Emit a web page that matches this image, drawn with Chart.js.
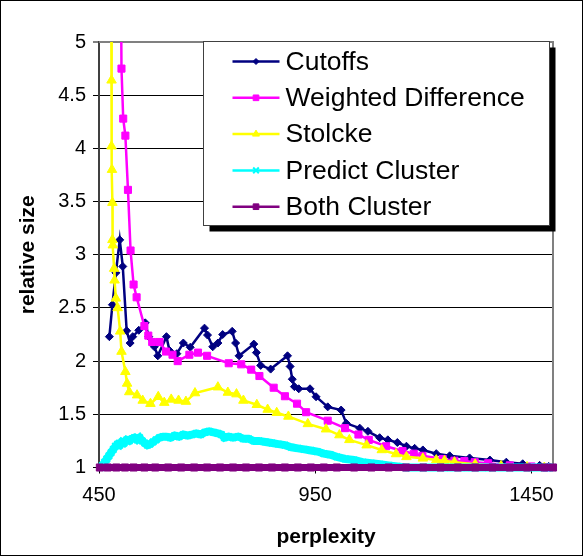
<!DOCTYPE html>
<html>
<head>
<meta charset="utf-8">
<script src="https://cdn.jsdelivr.net/npm/chart.js@4.4.0/dist/chart.umd.min.js"></script>
<style>
  html, body { margin: 0; padding: 0; background: #fff; }
  #wrap { width: 585px; height: 558px; }
</style>
</head>
<body>
<div id="wrap"><canvas id="sizeChart" width="585" height="558"></canvas></div>
<script>
const seriesNames = ["Cutoffs", "Weighted Difference", "Stolcke", "Predict Cluster", "Both Cluster"];
const seriesColors = ["#000080", "#ff00ff", "#ffff00", "#00ffff", "#800080"];
const seriesMarkers = ["rectRot", "rect", "triangle", "crossRot", "rect"];
const xTicks = [450, 950, 1450];
const yTicks = [1, 1.5, 2, 2.5, 3, 3.5, 4, 4.5, 5];

// Cutoffs
const cutoffsPerp = [474, 481, 489, 498, 505, 514, 522, 528, 542, 557, 565, 578, 586, 606, 613, 630, 645, 661,
  694, 701, 713, 725, 736, 758, 766, 774, 808, 814, 824, 847, 886, 892, 897, 902, 912, 938, 952, 979, 1010,
  1022, 1053, 1072, 1099, 1118, 1140, 1161, 1180, 1199, 1230, 1261, 1307, 1354, 1392, 1430, 1469, 1490];
const cutoffsSize = [2.23, 2.53, 2.83, 3.14, 2.89, 2.285, 2.17, 2.23, 2.29, 2.36, 2.23, 2.135, 2.05, 2.23, 2.10, 2.07, 2.17, 2.13,
  2.31, 2.245, 2.135, 2.17, 2.25, 2.28, 2.17, 2.05, 2.16, 2.08, 1.96, 1.925, 2.05, 1.95, 1.83, 1.76, 1.74, 1.74, 1.665, 1.57, 1.54,
  1.415, 1.37, 1.34, 1.28, 1.26, 1.235, 1.20, 1.18, 1.165, 1.13, 1.11, 1.09, 1.07, 1.05, 1.035, 1.02, 1.01];

// Weighted Difference
const weightedPerp = [500, 502, 506, 511, 517, 523, 530, 537, 555, 564, 573, 590, 605, 620, 632, 659, 679, 700, 750,
  779, 802, 821, 854, 880, 908, 929, 979, 1019, 1050, 1074, 1114, 1152, 1178, 1198, 1245, 1272, 1295, 1319, 1350,
  1400, 1450, 1485];
const weightedSize = [6, 4.75, 4.28, 4.12, 3.61, 3.04, 2.72, 2.60, 2.33, 2.24, 2.18, 2.18, 2.09, 2.06, 2.00, 2.06, 2.08, 2.05, 1.98,
  1.97, 1.92, 1.86, 1.75, 1.67, 1.60, 1.52, 1.44, 1.37, 1.31, 1.26, 1.20, 1.155, 1.13, 1.11, 1.08, 1.064, 1.06, 1.05, 1.04,
  1.02, 1.01, 1.0];

// Stolcke
const stolckePerp = [478, 479, 479, 480, 481, 481, 482, 485, 486, 489, 493, 499, 502, 511, 515, 520, 538, 551, 569, 587,
  601, 617, 634, 651, 672, 725, 748, 768, 784, 815, 840, 861, 888, 933, 975, 1006, 1029, 1069, 1104, 1137, 1161,
  1199, 1230, 1249, 1272, 1320, 1380, 1440, 1480];
const stolckeSize = [6, 4.64, 4.02, 3.80, 3.49, 3.14, 3.09, 2.87, 2.76, 2.59, 2.50, 2.28, 2.09, 1.90, 1.79, 1.71, 1.68, 1.63, 1.60, 1.665,
  1.61, 1.64, 1.63, 1.62, 1.70, 1.755, 1.705, 1.69, 1.63, 1.59, 1.545, 1.515, 1.48, 1.41, 1.36, 1.305, 1.26, 1.21, 1.165, 1.127, 1.10,
  1.086, 1.07, 1.064, 1.05, 1.03, 1.015, 1.005, 1.0];

// Predict Cluster
const predictPerp = [455, 458, 463, 468, 473, 478, 483, 488, 493, 498, 503, 508, 514, 520, 526, 532, 538, 544, 550, 556,
  562, 568, 575, 582, 590, 598, 606, 615, 625, 635, 645, 655, 665, 675, 685, 695, 705, 715, 725, 733, 740, 750, 760,
  772, 784, 796, 808, 820, 835, 850, 865, 880, 895, 910, 925, 940, 955, 970, 985, 1000, 1020, 1040, 1060, 1080,
  1100, 1120, 1140, 1160, 1200, 1250, 1300, 1350, 1400, 1450, 1500];
const predictSize = [1.00, 1.02, 1.05, 1.08, 1.11, 1.14, 1.17, 1.20, 1.22, 1.21, 1.24, 1.23, 1.26, 1.25, 1.27, 1.28, 1.26, 1.28, 1.25, 1.23,
  1.21, 1.22, 1.24, 1.26, 1.28, 1.29, 1.29, 1.28, 1.30, 1.29, 1.31, 1.30, 1.31, 1.32, 1.31, 1.33, 1.34, 1.33, 1.32, 1.31, 1.28, 1.29, 1.28,
  1.29, 1.27, 1.27, 1.25, 1.25, 1.24, 1.23, 1.22, 1.21, 1.19, 1.18, 1.17, 1.16, 1.15, 1.13, 1.12, 1.10, 1.08, 1.07, 1.05, 1.04,
  1.03, 1.02, 1.01, 1.00, 1.00, 1.00, 1.00, 1.00, 1.00, 1.00, 1.00];

// Both Cluster
const bothPerp = [452, 470, 490, 510, 530, 555, 580, 610, 640, 670, 700, 730, 760, 790, 820, 850, 880, 910, 940, 970,
  1000, 1040, 1080, 1120, 1160, 1200, 1240, 1280, 1320, 1360, 1400, 1440, 1480, 1500];
const bothSize = [1, 1, 1, 1, 1, 1, 1, 1, 1, 1, 1, 1, 1, 1, 1, 1, 1, 1, 1, 1,
  1, 1, 1, 1, 1, 1, 1, 1, 1, 1, 1, 1, 1, 1];

function pairUp(xs, ys) {
  return xs.map((x, i) => ({ x: x, y: ys[i] }));
}

Chart.defaults.font.family = '"Liberation Sans", Arial, sans-serif';
Chart.defaults.color = "#000";

const lineWidths = [2.5, 2.5, 2.5, 8, 7];
const markerSizes = [4, 5, 5.5, 4.5, 5];
const seriesData = [
  pairUp(cutoffsPerp, cutoffsSize),
  pairUp(weightedPerp, weightedSize),
  pairUp(stolckePerp, stolckeSize),
  pairUp(predictPerp, predictSize),
  pairUp(bothPerp, bothSize)
];

const datasets = seriesNames.map((name, i) => ({
  label: name,
  data: seriesData[i],
  borderColor: seriesColors[i],
  backgroundColor: seriesColors[i],
  borderWidth: lineWidths[i],
  pointStyle: seriesMarkers[i],
  pointRadius: markerSizes[i],
  pointBorderWidth: i === 3 ? 2 : 1,
  pointBorderColor: seriesColors[i],
  pointBackgroundColor: seriesColors[i],
  tension: 0,
  order: 5 - i,
  clip: { left: 5, top: 0, right: 5, bottom: 10 }
}));

// plot border (top/right) and outer frame
const frameBorder = {
  id: "frameBorder",
  beforeDatasetsDraw(chart) {
    const { ctx, chartArea } = chart;
    ctx.save();
    ctx.strokeStyle = "#808080";
    ctx.lineWidth = 2;
    ctx.beginPath();
    ctx.moveTo(chartArea.left, chartArea.top);
    ctx.lineTo(chartArea.right, chartArea.top);
    ctx.lineTo(chartArea.right, chartArea.bottom);
    ctx.stroke();
    ctx.restore();
  },
  afterDraw(chart) {
    const ctx = chart.ctx;
    ctx.save();
    ctx.strokeStyle = "#000";
    ctx.lineWidth = 1;
    ctx.strokeRect(0.5, 0.5, 582, 555);
    ctx.restore();
  }
};

// Excel style boxed legend with drop shadow
const boxLegend = {
  id: "boxLegend",
  afterDraw(chart) {
    const ctx = chart.ctx;
    const left = 203.5, top = 41.5, w = 346, h = 184;
    ctx.save();
    ctx.fillStyle = "#000";
    ctx.fillRect(left + 6, top + 6, w, h);
    ctx.fillStyle = "#fff";
    ctx.fillRect(left, top, w, h);
    ctx.strokeStyle = "#404040";
    ctx.lineWidth = 1;
    ctx.strokeRect(left, top, w, h);
    chart.data.datasets.forEach((ds, i) => {
      const y = top + 20 + i * 36.3;
      ctx.strokeStyle = ds.borderColor;
      ctx.lineWidth = 2.5;
      ctx.beginPath();
      ctx.moveTo(left + 29, y);
      ctx.lineTo(left + 76, y);
      ctx.stroke();
      ctx.fillStyle = ds.borderColor;
      ctx.strokeStyle = ds.borderColor;
      ctx.lineWidth = i === 3 ? 2 : 1;
      Chart.helpers.drawPoint(ctx, { pointStyle: ds.pointStyle, radius: i === 0 ? 3 : 4, rotation: 0, borderWidth: 1 }, left + 52.5, y);
      ctx.fillStyle = "#000";
      ctx.font = '26.5px "Liberation Sans", Arial, sans-serif';
      ctx.textBaseline = "middle";
      ctx.textAlign = "left";
      ctx.fillText(ds.label, left + 82, y + 1);
    });
    ctx.restore();
  }
};

new Chart(document.getElementById("sizeChart"), {
  type: "line",
  data: { datasets: datasets },
  plugins: [frameBorder, boxLegend],
  options: {
    responsive: false,
    devicePixelRatio: 1,
    animation: false,
    layout: { padding: { left: 0, top: 42, right: 32, bottom: 0 } },
    plugins: {
      legend: { display: false },
      tooltip: { enabled: false }
    },
    scales: {
      x: {
        type: "linear",
        min: 450,
        max: 1500,
        afterBuildTicks: (scale) => { scale.ticks = xTicks.map(v => ({ value: v })); },
        afterFit: (scale) => { scale.height = 90.5; },
        ticks: { font: { size: 20 }, color: "#000", padding: 10, maxRotation: 0, autoSkip: false, callback: (v) => String(v) },
        grid: { drawOnChartArea: false, drawTicks: true, tickLength: 6, color: "#000" },
        border: { color: "#000", width: 1 },
        title: { display: true, text: "perplexity", color: "#000", font: { size: 21, weight: "bold" }, padding: { top: 4, bottom: 8 } }
      },
      y: {
        min: 1,
        max: 5,
        afterBuildTicks: (scale) => { scale.ticks = yTicks.map(v => ({ value: v })); },
        afterFit: (scale) => { scale.width = 99; },
        ticks: { font: { size: 20 }, color: "#000", padding: 7, callback: (v) => String(v) },
        grid: {
          color: (c) => (c.tick && c.tick.value === 5 ? "#808080" : "#000"),
          lineWidth: (c) => (c.tick && c.tick.value === 5 ? 2 : 1),
          tickLength: 6
        },
        border: { color: "#404040", width: 2 },
        title: { display: true, text: "relative size", color: "#000", font: { size: 21, weight: "bold" }, padding: { top: 16, bottom: 0 } }
      }
    }
  }
});
</script>
</body>
</html>
